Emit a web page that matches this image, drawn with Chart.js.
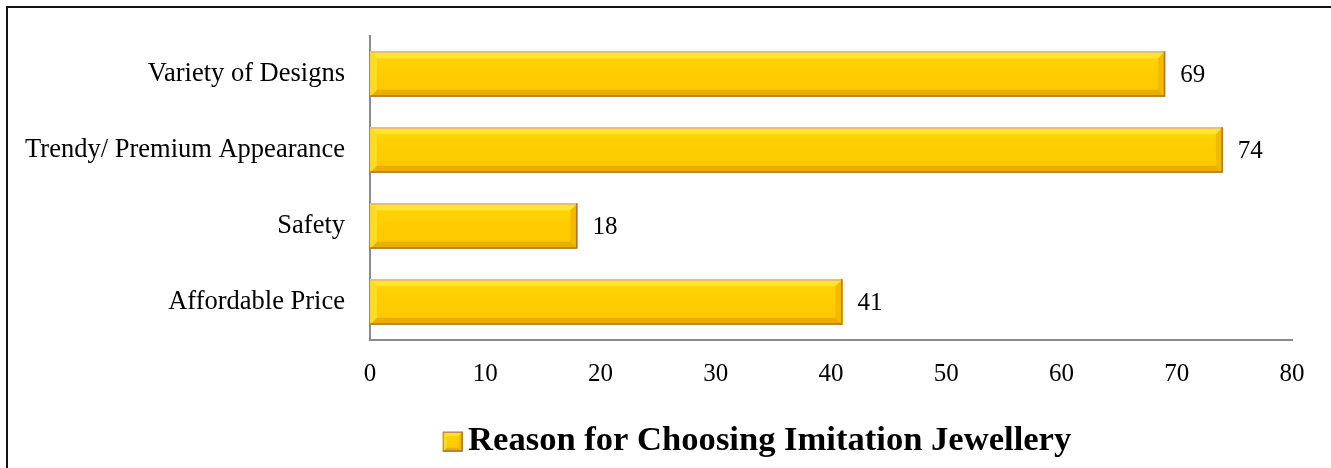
<!DOCTYPE html>
<html>
<head>
<meta charset="utf-8">
<script src="https://cdn.jsdelivr.net/npm/chart.js@4.4.0/dist/chart.umd.min.js"></script>
<style>
  html, body { margin: 0; padding: 0; background: #ffffff; }
  #wrap { width: 1331px; height: 468px; position: relative; }
</style>
</head>
<body>
<div id="wrap"><canvas id="c" width="1331" height="468"></canvas></div>
<script>
const categories = ["Variety of Designs", "Trendy/ Premium Appearance", "Safety", "Affordable Price"];
const values = [69, 74, 18, 41];
const seriesName = "Reason for Choosing Imitation Jewellery";
const xTicks = [0, 10, 20, 30, 40, 50, 60, 70, 80];

const FONT = "'Liberation Serif', 'Times New Roman', serif";
const LEGEND_SHIFT = 111;

function bevelRect(ctx, l, t, r, b, s) {
  const w = r - l, h = b - t;
  s = Math.min(s, w / 2, h / 2);
  const g = ctx.createLinearGradient(0, t, 0, b);
  g.addColorStop(0, '#FFD60A');
  g.addColorStop(0.5, '#FFCC00');
  g.addColorStop(1, '#FFC800');
  ctx.fillStyle = g;
  ctx.fillRect(l, t, w, h);
  const poly = (pts, color) => {
    ctx.beginPath();
    ctx.moveTo(pts[0][0], pts[0][1]);
    for (let i = 1; i < pts.length; i++) ctx.lineTo(pts[i][0], pts[i][1]);
    ctx.closePath();
    ctx.fillStyle = color;
    ctx.fill();
  };
  poly([[l, t], [r, t], [r - s, t + s], [l + s, t + s]], '#FFE432');
  poly([[l, b], [r, b], [r - s, b - s], [l + s, b - s]], '#EAAE00');
  poly([[l, t], [l + s, t + s], [l + s, b - s], [l, b]], '#FFDA22');
  poly([[r, t], [r - s, t + s], [r - s, b - s], [r, b]], '#F2BA00');
  ctx.lineWidth = 1.5;
  ctx.strokeStyle = '#E9B27A';
  ctx.beginPath();
  ctx.moveTo(l, t + 0.75); ctx.lineTo(r, t + 0.75);
  ctx.stroke();
  ctx.strokeStyle = '#A9773F';
  ctx.beginPath();
  ctx.moveTo(l, b - 0.75); ctx.lineTo(r - 0.75, b - 0.75); ctx.lineTo(r - 0.75, t);
  ctx.stroke();
}

const decor = {
  id: 'decor',
  beforeDraw(chart) {
    const ctx = chart.ctx;
    ctx.save();
    ctx.fillStyle = '#ffffff';
    ctx.fillRect(0, 0, chart.width, chart.height);
    ctx.restore();
  },
  afterLayout(chart) {
    const lg = chart.legend;
    if (!lg) return;
    lg.left += LEGEND_SHIFT;
    lg.right += LEGEND_SHIFT;
    (lg.legendHitBoxes || []).forEach(hb => { hb.left += LEGEND_SHIFT; });
  },
  afterDatasetsDraw(chart) {
    const ctx = chart.ctx;
    const meta = chart.getDatasetMeta(0);
    ctx.save();
    meta.data.forEach((el, i) => {
      const p = el.getProps(['x', 'y', 'base', 'height'], true);
      const l = Math.min(p.base, p.x), r = Math.max(p.base, p.x);
      const t = p.y - p.height / 2, b = p.y + p.height / 2;
      bevelRect(ctx, l, t, r, b, 7);
      ctx.fillStyle = '#000000';
      ctx.font = "25px " + FONT;
      ctx.textAlign = 'left';
      ctx.textBaseline = 'middle';
      ctx.fillText(String(values[i]), r + 15, p.y + 1);
    });
    ctx.restore();
  },
  afterDraw(chart) {
    const ctx = chart.ctx;
    ctx.save();
    const lg = chart.legend;
    if (lg && lg.legendHitBoxes && lg.legendHitBoxes.length) {
      const hb = lg.legendHitBoxes[0];
      const cy = hb.top + hb.height / 2 + 1;
      bevelRect(ctx, hb.left, cy - 10, hb.left + 20, cy + 10, 4);
      ctx.strokeStyle = '#B08050';
      ctx.lineWidth = 1;
      ctx.strokeRect(hb.left + 0.5, cy - 9.5, 19, 19);
    }
    ctx.fillStyle = '#141414';
    ctx.fillRect(6, 6, chart.width - 6, 2);
    ctx.fillRect(6, 6, 2, chart.height - 6);
    ctx.restore();
  }
};

new Chart(document.getElementById('c'), {
  type: 'bar',
  data: {
    labels: categories,
    datasets: [{
      label: seriesName,
      data: values,
      backgroundColor: 'rgba(0,0,0,0)',
      borderWidth: 0,
      barPercentage: 0.6,
      categoryPercentage: 1.0
    }]
  },
  options: {
    indexAxis: 'y',
    responsive: false,
    animation: false,
    devicePixelRatio: 1,
    layout: { padding: { top: 36, left: 0, right: 39, bottom: 0 } },
    scales: {
      x: {
        min: 0, max: 80,
        afterBuildTicks(scale) { scale.ticks = xTicks.map(v => ({ value: v })); },
        afterFit(scale) { scale.height = 73.4; scale.paddingLeft = 0; scale.paddingRight = 0; },
        grid: { display: false, drawTicks: false },
        border: { display: true, color: '#8C8C8C', width: 2 },
        ticks: { color: '#000000', font: { family: FONT, size: 25 }, padding: 19, maxRotation: 0 }
      },
      y: {
        afterFit(scale) { scale.width = 370; scale.paddingTop = 0; scale.paddingBottom = 0; },
        grid: { display: false, drawTicks: false },
        border: { display: true, color: '#8C8C8C', width: 2 },
        ticks: { color: '#000000', font: { family: FONT, size: 26.5 }, padding: 25 }
      }
    },
    plugins: {
      legend: {
        position: 'bottom',
        labels: {
          color: '#000000',
          font: { family: FONT, size: 34.6, weight: 'bold' },
          boxWidth: 8,
          boxHeight: 20,
          padding: 10,
          generateLabels(chart) {
            return [{ text: seriesName, fillStyle: 'rgba(0,0,0,0)', strokeStyle: 'rgba(0,0,0,0)', lineWidth: 0, datasetIndex: 0 }];
          }
        }
      },
      tooltip: { enabled: false }
    }
  },
  plugins: [decor]
});
</script>
</body>
</html>
